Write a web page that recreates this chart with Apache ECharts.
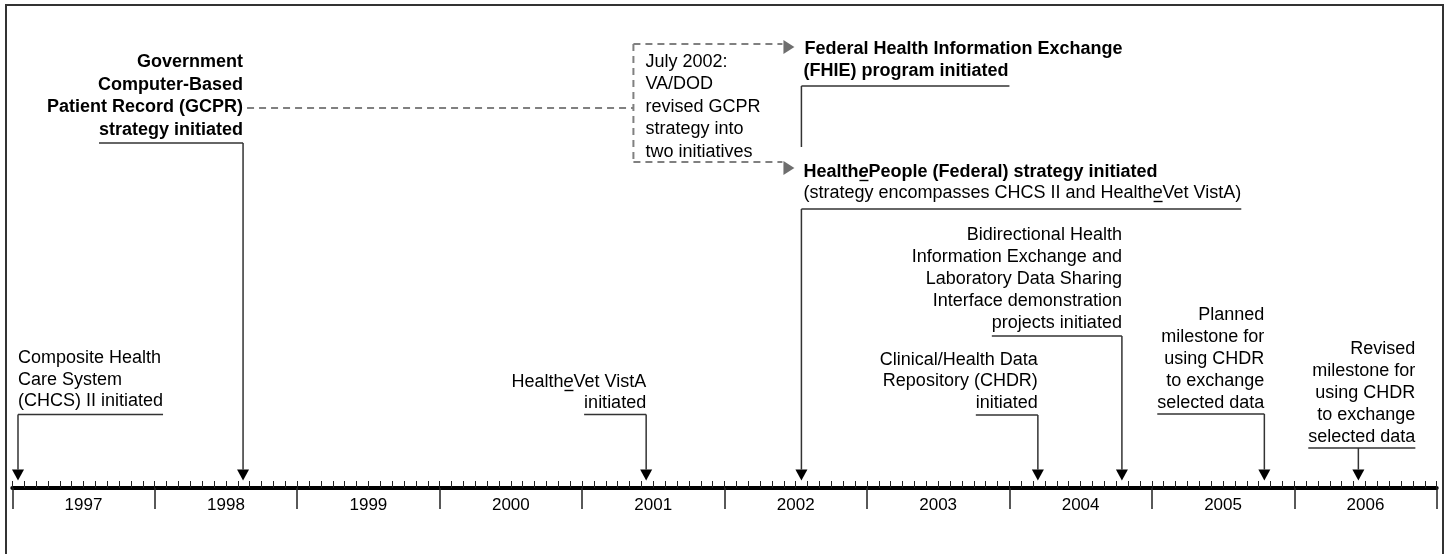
<!DOCTYPE html>
<html><head><meta charset="utf-8">
<script src="https://cdn.jsdelivr.net/npm/echarts@6/dist/echarts.min.js"></script>
<style>html,body{margin:0;padding:0;background:#fff}#c{width:1447px;height:554px}</style>
</head><body><div id="c"></div>
<script>
// ---------------- data ----------------
const years = ['1997','1998','1999','2000','2001','2002','2003','2004','2005','2006'];
const eventNames = ['CHCS II','GCPR','HealtheVet','HealthePeople','CHDR','Bidirectional','Planned','Revised'];
const eventDates = [1997.04, 1998.62, 2001.45, 2002.54, 2004.20, 2004.79, 2005.79, 2006.45];
const eventLabels = [
  ['Composite Health','Care System','(CHCS) II initiated'],
  ['Government','Computer-Based','Patient Record (GCPR)','strategy initiated'],
  ['Health_e_Vet VistA','initiated'],
  ['Health_e_People (Federal) strategy initiated','(strategy encompasses CHCS II and Health_e_Vet VistA)'],
  ['Clinical/Health Data','Repository (CHDR)','initiated'],
  ['Bidirectional Health','Information Exchange and','Laboratory Data Sharing','Interface demonstration','projects initiated'],
  ['Planned','milestone for','using CHDR','to exchange','selected data'],
  ['Revised','milestone for','using CHDR','to exchange','selected data']
];
const fhieDate = 2002.54;
const fhieLabel = ['Federal Health Information Exchange','(FHIE) program initiated'];
const noteLabel = ['July 2002:','VA/DOD','revised GCPR','strategy into','two initiatives'];

// ---------------- layout / style ----------------
const FS = 18;
const FONT = '"Liberation Sans", Arial, Helvetica, sans-serif';
const layout = [
  {align:'left',  dx:0,  underY:414.5, gap:13,  lh:21.5, bold:[]},
  {align:'right', dx:0,  underY:143,   gap:13,  lh:22.5, bold:[0,1,2,3]},
  {align:'right', dx:0,  underY:414.5, gap:11,  lh:21.5, bold:[]},
  {align:'left',  dx:2,  underY:209,   gap:16,  lh:21,   bold:[0]},
  {align:'right', dx:0,  underY:415,   gap:12,  lh:21.5, bold:[]},
  {align:'right', dx:0,  underY:336,   gap:13,  lh:22,   bold:[]},
  {align:'right', dx:0,  underY:414,   gap:11,  lh:22,   bold:[]},
  {align:'right', dx:57, underY:448,   gap:10.5,lh:22,   bold:[]}
];
const ARROW_TIP = 480.5, AH = 11, AW = 6;
const LINE_COLOR = '#333';
const DASH_COLOR = '#808080';
const GRID = {left: 12.3, right: 10.3, top: 0, bottom: 66, containLabel: false};

const mctx = document.createElement('canvas').getContext('2d');
function fontStr(bold, it){ return (it?'italic ':'') + (bold?'bold ':'') + FS + 'px ' + FONT; }
function measure(t, bold, it){ mctx.font = fontStr(bold, it); return mctx.measureText(t).width; }
function segs(line){
  const parts = line.split('_e_'); const out = [];
  parts.forEach((p, i) => { if (i > 0) out.push({t:'e', it:true}); if (p) out.push({t:p, it:false}); });
  return out;
}
function drawLine(line, xa, align, y, bold, kids){
  const sg = segs(line);
  const w = sg.map(s => measure(s.t, bold, s.it));
  const total = w.reduce((a, b) => a + b, 0);
  let x = align === 'right' ? xa - total : xa;
  const x0 = x;
  sg.forEach((s, i) => {
    kids.push({type:'text', silent:true, style:{text:s.t, x:x, y:y, font:fontStr(bold, s.it), fill:'#000', align:'left', verticalAlign:'middle'}});
    if (s.it) kids.push({type:'line', silent:true, shape:{x1:x+1, y1:y+8.5, x2:x+w[i], y2:y+8.5}, style:{stroke:'#000', lineWidth:1.4}});
    x += w[i];
  });
  return {x0:x0, x1:x0+total};
}
function seg(x1, y1, x2, y2, dashed){
  return {type:'line', silent:true, shape:{x1:x1, y1:y1, x2:x2, y2:y2},
    style: dashed ? {stroke:DASH_COLOR, lineWidth:2, lineDash:[7,5]} : {stroke:LINE_COLOR, lineWidth:1.5}};
}

function renderEvent(params, api){
  const i = params.dataIndex;
  const L = layout[i];
  const d = api.value(0);
  const ax = api.coord([d, 0])[0];
  const Y = v => api.coord([d, v])[1];
  const kids = [];
  const lines = eventLabels[i];
  const n = lines.length;
  const lastV = L.underY - L.gap;
  let last;
  lines.forEach((ln, k) => {
    const y = Y(lastV - (n - 1 - k) * L.lh);
    last = drawLine(ln, ax + L.dx, L.align, y, L.bold.indexOf(k) >= 0, kids);
  });
  const uy = Y(L.underY);
  kids.push(seg(Math.min(last.x0, ax), uy, Math.max(last.x1, ax), uy));
  const tip = Y(ARROW_TIP);
  kids.push(seg(ax, uy, ax, tip - AH));
  kids.push({type:'polygon', silent:true, shape:{points:[[ax-AW, tip-AH],[ax+AW, tip-AH],[ax, tip]]}, style:{fill:'#000'}});
  return {type:'group', children:kids};
}

function renderFhie(params, api){
  const d = api.value(0);
  const ax = api.coord([d, 0])[0];
  const Y = v => api.coord([d, v])[1];
  const gx = api.coord([eventDates[1], 0])[0];
  const kids = [];
  drawLine(fhieLabel[0], ax + 3, 'left', Y(49), true, kids);
  const l2 = drawLine(fhieLabel[1], ax + 2, 'left', Y(71), true, kids);
  kids.push(seg(ax, Y(86), l2.x1 + 1, Y(86)));
  kids.push(seg(ax, Y(86), ax, Y(147)));
  noteLabel.forEach((t, k) => drawLine(t, ax - 156, 'left', Y(62 + k * 22.5), false, kids));
  const bx = ax - 168, ex = ax - 19;
  kids.push(seg(gx + 4, Y(108), bx, Y(108), true));
  kids.push(seg(bx, Y(44), bx, Y(162), true));
  kids.push(seg(bx, Y(44), ex, Y(44), true));
  kids.push(seg(bx, Y(162), ex, Y(162), true));
  [47, 168].forEach(v => {
    const y = Y(v);
    kids.push({type:'polygon', silent:true, shape:{points:[[ax-18, y-7],[ax-18, y+7],[ax-7, y]]}, style:{fill:'#6e6e6e'}});
  });
  return {type:'group', children:kids};
}

const chart = echarts.init(document.getElementById('c'), null, {renderer:'canvas'});
chart.setOption({
  animation: false,
  backgroundColor: '#fff',
  grid: [Object.assign({}, GRID), Object.assign({}, GRID)],
  xAxis: [
    {type:'value', min:1997, max:2007, interval:1, position:'bottom', gridIndex:0,
     axisLine: {show:false, onZero:false},
     axisTick: {show:true, inside:true, length:7, lineStyle:{color:'#222', width:1}},
     minorTick: {show:true, splitNumber:12, length:7, lineStyle:{color:'#222', width:1}},
     axisLabel: {show:false}, splitLine: {show:false}, minorSplitLine:{show:false}},
    {type:'category', data: years, boundaryGap: true, position:'bottom', gridIndex:1,
     axisLine: {show:true, onZero:false, lineStyle:{color:'#000', width:4}},
     axisTick: {show:true, length:21, alignWithLabel:false, interval:0, lineStyle:{color:'#222', width:1.5}},
     axisLabel: {show:true, interval:0, fontSize:17, color:'#000', fontFamily:'Liberation Sans', margin:9},
     splitLine: {show:false}}
  ],
  yAxis: [
    {type:'value', min:0, max:488, inverse:true, show:false, gridIndex:0, splitLine:{show:false}},
    {type:'value', min:0, max:1, show:false, gridIndex:1, splitLine:{show:false}}
  ],
  graphic: [
    {type:'rect', silent:true, shape:{x:6, y:5, width:1437, height:600}, style:{fill:'none', stroke:'#333', lineWidth:2}, z:100}
  ],
  series: [
    {type:'custom', name:'events', coordinateSystem:'cartesian2d', xAxisIndex:0, yAxisIndex:0, clip:false,
     data: eventDates.map((d, i) => ({name: eventNames[i], value:[d, 0]})), renderItem: renderEvent, z:5},
    {type:'custom', name:'FHIE', coordinateSystem:'cartesian2d', xAxisIndex:0, yAxisIndex:0, clip:false,
     data: [[fhieDate, 0]], renderItem: renderFhie, z:5}
  ]
});
</script></body></html>
